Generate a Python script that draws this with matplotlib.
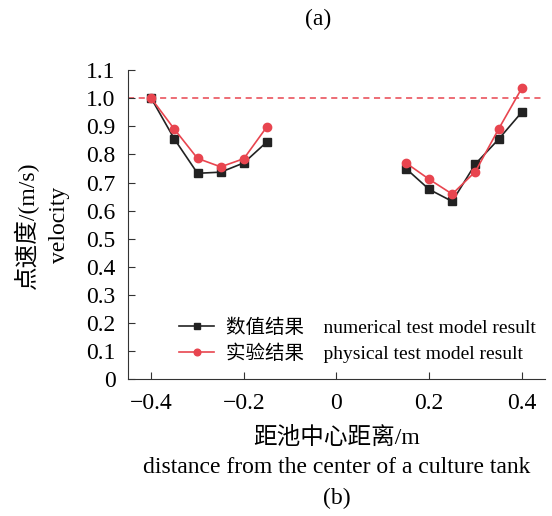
import matplotlib
matplotlib.use('Agg')
import matplotlib.pyplot as plt
import numpy as np

plt.rcParams['font.family'] = ['Liberation Serif', 'Noto Sans CJK SC']
plt.rcParams['axes.unicode_minus'] = True

# 距池中心距离 (m), 两侧分开, 中间用 nan 断开
x = [-0.40, -0.35, -0.30, -0.25, -0.20, -0.15, np.nan,
     0.15, 0.20, 0.25, 0.30, 0.35, 0.40]
v_num = [1.00, 0.855, 0.733, 0.737, 0.770, 0.845, np.nan,
         0.750, 0.676, 0.633, 0.766, 0.854, 0.950]
v_exp = [1.00, 0.890, 0.786, 0.756, 0.785, 0.899, np.nan,
         0.770, 0.712, 0.659, 0.739, 0.890, 1.035]
v_ref = 1.0

xticks = [-0.4, -0.2, 0, 0.2, 0.4]
xticklabels = ['\u22120.4', '\u22120.2', '0', '0.2', '0.4']
yticks = np.round(np.arange(0, 1.11, 0.1), 1)
yticklabels = ['0'] + ['%.1f' % t for t in yticks[1:]]

red = '#e8454f'
black = '#222222'

fig = plt.figure(figsize=(5.52, 5.16), dpi=100)
ax = fig.add_axes([0.232, 0.265, 0.755, 0.599])

ax.axhline(v_ref, color=red, linestyle=(0, (4, 3)), linewidth=1.1, zorder=1)
ax.plot(x, v_num, color=black, marker='s', markersize=5.5, linewidth=1.2,
        label='数值结果    numerical test model result', zorder=3)
ax.plot(x, v_exp, color=red, marker='o', markersize=6, linewidth=1.2,
        label='实验结果    physical test model result', zorder=4)

ax.set_xlim(-0.45, 0.45)
ax.set_ylim(0, 1.1)
ax.set_xticks(xticks)
ax.set_xticklabels(xticklabels)
ax.set_yticks(yticks)
ax.set_yticklabels(yticklabels)
ax.tick_params(direction='in', labelsize=17, length=5, color='#333333')
ax.tick_params(axis='x', pad=10)
ax.tick_params(axis='y', pad=9)
ax.spines['top'].set_visible(False)
ax.spines['right'].set_visible(False)
for s in ('left', 'bottom'):
    ax.spines[s].set_color('#333333')

ax.legend(loc='lower right', frameon=False, fontsize=14, handlelength=1.8,
          handletextpad=0.6, markerscale=0.8,
          bbox_to_anchor=(1.02, -0.005), labelspacing=0.3)

# 坐标轴标题 (中英双语)
fig.text(0.047, 0.564, '点速度/(m/s)', rotation=90, ha='center', va='center', fontsize=17)
fig.text(0.108, 0.564, 'velocity', rotation=90, ha='center', va='center', fontsize=17)
fig.text(0.61, 0.152, '距池中心距离/m', ha='center', va='center', fontsize=17)
fig.text(0.61, 0.094, 'distance from the center of a culture tank', ha='center', va='center', fontsize=17)
fig.text(0.61, 0.034, '(b)', ha='center', va='center', fontsize=17)
fig.text(0.577, 0.962, '(a)', ha='center', va='center', fontsize=17)

fig.savefig('out.png', dpi=100)
